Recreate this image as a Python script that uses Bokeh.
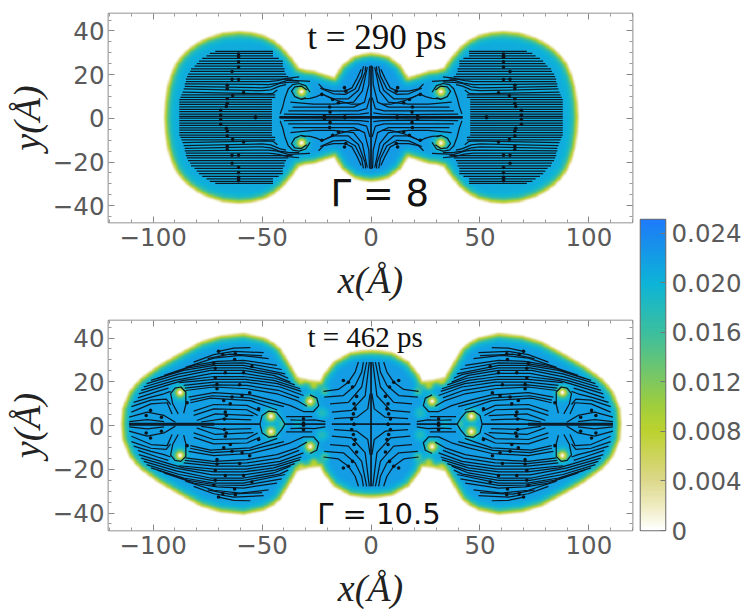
import numpy as np
from bokeh.embed import file_html
from bokeh.layouts import column, row
from bokeh.models import (CustomJSTickFormatter, FixedTicker, Label, LinearAxis,
                          LinearColorMapper, Range1d)
from bokeh.plotting import figure
from bokeh.resources import INLINE

# Axis ticks and colour scale
x_ticks = [-100, -50, 0, 50, 100]
x_minor = [-120, -110, -90, -80, -70, -60, -40, -30, -20, -10, 10, 20, 30, 40, 60, 70, 80, 90, 110, 120]
y_ticks = [-40, -20, 0, 20, 40]
y_minor = [-45, -35, -30, -25, -15, -10, -5, 5, 10, 15, 25, 30, 35, 45]
cbar_ticks = [0, 0.004, 0.008, 0.012, 0.016, 0.02, 0.024]
cbar_labels = ["0", "0.004", "0.008", "0.012", "0.016", "0.020", "0.024"]
cbar_levels = [0, 0.0003, 0.001, 0.002, 0.004, 0.006, 0.008, 0.010, 0.012, 0.016, 0.020, 0.024, 0.0255]
cbar_colors = ["#ffffff", "#fcfcf2", "#f6f5dc", "#edebbd", "#dcd88a", "#cdd45c", "#bcd22f", "#a0ce3c", "#7fc85e",
               "#3cbf9e", "#0db4d8", "#1a88f0", "#1f78ff"]

# Top panel (t = 290 ps): one quadrant, the others are its mirror images
top_outline = [(-95, 0), (-94.6, 7), (-93.6, 13.9), (-92, 19.5), (-89.8, 24.6), (-87, 28.3), (-83.7, 31.5),
               (-79.8, 34.2), (-75.3, 36.5), (-68, 38.8), (-60.8, 39.5), (-55, 39), (-49.3, 37.6), (-44.6, 35.2),
               (-40.9, 32.2), (-36.3, 26.9), (-33.3, 22.6), (-30, 21.6), (-26.4, 21.2),
               (-20.3, 19.2), (-17, 18.2), (-15.5, 20.5), (-13.4, 23.8), (-8, 27.9), (-4, 29), (0, 29.5)]
top_vortices = [(-32, 11.8)]
top_bulk_x = [0, 15, 30, 60, 95]
top_bulk = [0.0226, 0.0222, 0.022, 0.0208, 0.0208]
top_levels = [30.2, 29.3, 28.2, 27, 25.8, 24.6, 23.4, 22.2, 21, 19.8, 18.6, 17.5,
              10.3, 9.2, 8.1, 7, 5.9, 4.8, 3.7, 2.6, 1.5, 0.4]
top_starts = [-71.5, -74, -75.5, -77.5, -79, -80, -81, -82.6, -83, -84, -84.5, -85,
              -87, -87.5, -88, -88, -88, -88, -88, -88, -88, -88]
top_ends = [-45, -45, -45, -42.4, -40.5, -40.5, -40.5, -39.7, -39.7, -39, -38, -36,
            -44, -44, -45.5, -45.5, -45.5, -45.5, -45.5, -45.5, -45.5, -45.5]
top_curves = [
    [(-85, 16.4), (-47, 16.4), (-43, 16.8), (-38, 18), (-33, 18.5)],
    [(-85.5, 15.3), (-47, 15), (-43, 15.5), (-38, 17), (-28, 16.5)],
    [(-85.5, 14.2), (-50, 13.5), (-46, 14), (-42, 15.5), (-38, 16), (-33, 16.2)],
    [(-86, 13), (-50, 12.2), (-46, 12.6), (-42, 14.3), (-39, 15)],
    [(-86.5, 11.6), (-48, 10.8), (-45, 11), (-43, 12.5)],
    [(-41.7, 1.6), (-40.5, 5), (-39.5, 9), (-38, 13), (-36, 15), (-33, 15.5), (-30, 14.5), (-28, 11.5)],
    [(-30, 9), (-32, 8.2), (-35, 9.5), (-36.5, 12), (-35, 14), (-32, 14.3), (-29.5, 12.5)],
    [(-32, 8.5), (-28, 8.7), (-25, 9.5), (-22.5, 10.7), (-19, 9), (-15, 7.5), (-9, 6), (-5, 6)],
    [(-24.1, 15.3), (-21.8, 13), (-17.3, 12), (-11.9, 12), (-8.8, 13.5), (-6.5, 17.7), (-4.5, 22)],
    [(-23.3, 13.4), (-17.3, 10.8), (-11.9, 10.5), (-7.3, 13), (-4.3, 19), (-3.5, 23.4)],
    [(-22.6, 10.7), (-17.3, 8.5), (-10.4, 8.5), (-5.8, 12.4), (-2.7, 20.8), (-2.5, 23.4)],
    [(-37, 7), (-26.4, 6), (-17.3, 6), (-8, 7), (-4, 12), (-1.7, 23)],
    [(-36, 4.7), (-17.3, 4.7), (-8, 4.7), (-3, 7), (-1, 15), (-0.7, 23.4)],
    [(-38, 3), (-17.3, 3), (-6, 3), (-2, 4), (-0.5, 9)],
    [(-40, 1.5), (-17, 1.3), (-5, 1.5), (-1, 2)],
    [(-42, 0), (0, 0), (0, 23.7)],
    [(-42, 0.3), (0, 0.3)],
]
top_arrows = [(-60.8, 29), (-60.8, 28), (-60.8, 27.5), (-60.8, 25.4), (-60.8, 23), (-63.8, 21), (-63.8, 17.4),
              (-60.8, 17.3), (-66, 14.7), (-66, 13.1), (-58.5, 11.3), (-63.5, 10), (-66, 8.5), (-66, 6.3),
              (-69, 3.2), (-69, 1), (-53, 0.2), (-66.4, 5), (-22.6, 10.5), (-12.2, 13.6), (-11.6, 12),
              (-17.6, 8.2), (-15, 6.7), (-19, 4.7), (-18.8, 2.4), (-21.4, 0.6), (-12, 0.2)]

# Bottom panel (t = 462 ps)
bot_outline = [(-114.7, 0), (-114.2, 7), (-111.1, 14.7), (-108.5, 18), (-105.8, 20.8), (-97.4, 26.9), (-88.2, 32.2),
               (-78.3, 37.6), (-69.2, 40.3), (-58.5, 41.4), (-49.3, 39.4), (-45, 37.2), (-41.7, 34.5), (-37.1, 26.9),
               (-34, 21.5), (-28.7, 20), (-23.4, 19.5), (-22, 22.3), (-17.3, 28.4), (-9.6, 32.7), (-4, 33.5), (0, 33.7)]
bot_vortices = [(-87.8, 14.4), (-46, 3.5), (-28, 10.4)]
bot_dips = [(-32.5, 19.5, 0.5, 2), (-26.4, 17.5, 0.5, 2), (-21.5, 15, 0.3, 2), (-41, 0.5, 0.25, 1.6),
            (-22.5, 5, 0.2, 2.5), (-34, 0, 0.15, 2)]
bot_bulk_x = [0, 30, 60, 115]
bot_bulk = [0.0222, 0.0222, 0.0219, 0.0219]
bot_curves = [
    [(-70, 33.3), (-63, 34.8), (-55.4, 35)],
    [(-81.4, 28.4), (-72.2, 31.8), (-63, 33.3), (-49.3, 32.7)],
    [(-75, 30), (-65, 32), (-50, 31.3)],
    [(-85.2, 26), (-72.2, 30.2), (-60, 31.5), (-47, 30)],
    [(-95, 22.3), (-81.4, 26.9), (-70.7, 28.7), (-58.5, 29.2), (-43.2, 26.9)],
    [(-98, 21), (-84, 25.7), (-71, 27.8), (-58.5, 28), (-41, 25)],
    [(-101, 20), (-86, 24.6), (-72, 26.9), (-58.5, 26.9), (-39.4, 23)],
    [(-103, 18.5), (-88, 23), (-73, 25.7), (-58.5, 25.7), (-42, 22.8), (-38, 21)],
    [(-104.3, 17), (-89, 21.5), (-73.7, 24.6), (-58.5, 24.6), (-44.7, 22.3), (-37, 19.2)],
    [(-105.5, 15.5), (-90, 20), (-73, 23.2), (-58.5, 23.2), (-44, 21), (-35, 18)],
    [(-106.6, 13.9), (-91.3, 18.5), (-86, 20), (-72, 21.8), (-58.5, 21.8), (-44.7, 20), (-32.5, 16.2)],
    [(-88, 19), (-72, 20.5), (-57.5, 20.5), (-43, 18.5), (-32, 15)],
    [(-86, 17.7), (-72, 19.2), (-57, 19.2), (-41.7, 17), (-31, 13.1)],
    [(-85.5, 16.5), (-72, 18), (-57, 17.7), (-42.5, 15.5), (-33, 12)],
    [(-85.2, 15.4), (-72.2, 17), (-57, 16.2), (-43.2, 13.9), (-34, 10.8), (-29.5, 8.2)],
    [(-83.7, 12.4), (-72.2, 14.4), (-55.4, 13.4), (-44.7, 10.8), (-37, 8.5), (-31, 5.8), (-26.4, 5.8),
     (-24, 8.5), (-24.9, 11.9), (-28, 13.4)],
    [(-83, 11), (-73, 13), (-56, 12), (-46, 9.5), (-40, 8)],
    [(-82.9, 9.8), (-73.7, 11.9), (-55.4, 10.8), (-47.5, 8.1), (-43, 6.5)],
    [(-81.4, 6), (-72.2, 9), (-57, 8.6), (-51, 6)],
    [(-81.4, 4), (-72.2, 7), (-57, 6.6), (-52, 4)],
    [(-80, 1.7), (-71.5, 4.7), (-54, 3.9)],
    [(-78, 1), (-68, 2.4), (-55, 2)],
    [(-111, 0), (-51, 0)],
    [(-111, 0.4), (-72, 0.4)],
    [(-51, 0), (-50, 4), (-47, 6), (-43.5, 5.5), (-41, 2.5), (-39.5, 0), (-21, 0)],
    [(-88.5, 4.7), (-91, 9.2), (-92, 14), (-90, 16.5), (-87.3, 17), (-85, 14.7), (-85, 9), (-86, 5)],
    [(-107, 12), (-98, 15), (-93, 16.5)],
    [(-109, 10), (-101, 12.4), (-95, 13.9), (-92, 15)],
    [(-110, 8), (-101, 11), (-94, 11.5), (-92, 9)],
    [(-110, 5.5), (-101, 9.3), (-93.6, 9.8), (-91.3, 4.7)],
    [(-111, 3.2), (-102.7, 5.5), (-95, 4), (-89.8, 0.9)],
    [(-111, 1.2), (-102.7, 2.1), (-95, 1.2)],
    [(-37, 2), (-32, 1.8), (-26, 2), (-21, 1.2)],
    [(-39, 3.5), (-33, 3.5), (-27, 3.5)],
    [(-21.8, 15), (-15, 15.9), (-10.4, 19.2), (-7.3, 23.8), (-5.8, 28.4)],
    [(-21.5, 12.4), (-12.7, 13.1), (-7.3, 17.7), (-4.3, 23.8), (-3.5, 28.4)],
    [(-18.8, 9.3), (-10.4, 10), (-4.3, 17), (-2, 28.4)],
    [(-18, 5.5), (-8.9, 6.3), (-2.7, 13), (-0.8, 28.4)],
    [(-17, 2.5), (-6.5, 3.2), (-1.5, 7), (-0.4, 14)],
    [(-18, 0), (0, 0), (0, 28.4)],
]
bot_arrows = [(-70, 33.3), (-68, 31.8), (-62.3, 32.2), (-62.6, 29.6), (-72.2, 27.9), (-71.5, 25.6), (-54.7, 26.4),
              (-66.9, 23.5), (-58.5, 23.5), (-71.5, 21.2), (-70.7, 18.2), (-60.3, 18), (-70.7, 16.2), (-55.7, 14.4),
              (-59.2, 13.1), (-63.8, 12.4), (-67.6, 10.8), (-64.6, 9.3), (-84.4, 9.8), (-101.2, 6.3), (-103.2, 4),
              (-96.2, 3.2), (-51.6, 7), (-66.9, 5.5), (-66.4, 4), (-67.3, 2.4), (-31, 0.5), (-31, 2.5),
              (-12.7, 20), (-10.4, 19.2), (-8.5, 17), (-6.6, 12.7), (-7.8, 9.3), (-7.3, 7), (-8.1, 4.7),
              (-8.9, 2.4), (-7.8, 0)]


def folded_field(xg, yg, outline, vortices, dips, bulk_x, bulk, heal):
    # density on a grid: zero just outside the outline, healing up to the bulk value inside it
    ax, ay = -np.abs(xg), np.abs(yg)
    pts = np.array(outline)
    d = np.full(xg.shape, 1e9)
    for (x0, y0), (x1, y1) in zip(pts[:-1], pts[1:]):
        t = ((ax - x0) * (x1 - x0) + (ay - y0) * (y1 - y0)) / ((x1 - x0) ** 2 + (y1 - y0) ** 2)
        t = np.clip(t, 0, 1)
        d = np.minimum(d, np.hypot(ax - x0 - t * (x1 - x0), ay - y0 - t * (y1 - y0)))
    poly = np.vstack([pts, [(0, 0)]])
    inside = np.zeros(xg.shape, bool)
    for (x0, y0), (x1, y1) in zip(poly, np.roll(poly, -1, axis=0)):
        if y0 == y1:
            continue
        cross = ((y0 > ay) != (y1 > ay)) & (ax < x0 + (ay - y0) * (x1 - x0) / (y1 - y0))
        inside ^= cross
    signed = np.where(inside, d, -d) + 1.0
    rho = np.interp(-ax, bulk_x, bulk) * np.tanh(np.clip(signed, 0, None) / heal) ** 2
    for vx, vy in vortices:
        rho = rho * np.tanh(np.hypot(ax - vx, ay - vy) / 2.0) ** 2
    for vx, vy, amp, size in dips:
        rho = rho * (1 - amp * np.exp(-((ax - vx) ** 2 + (ay - vy) ** 2) / size ** 2))
    return rho


def mirrored(lines):
    out = []
    for line in lines:
        for sx in (1, -1):
            for sy in (1, -1):
                out.append([(sx * px, sy * py) for px, py in line])
    return out


mapper = LinearColorMapper(
    palette=["#%02x%02x%02x" % tuple(
        int(round(np.interp(v, cbar_levels, [int(c[i:i + 2], 16) for c in cbar_colors])))
        for i in (1, 3, 5)) for v in np.linspace(0, 0.0255, 256)],
    low=0, high=0.0255)


def panel(outline, vortices, dips, bulk_x, bulk, lines, arrows, shift, fh, top_b, bot_b, xr, yr):
    p = figure(frame_width=524, frame_height=fh, x_range=Range1d(*xr), y_range=Range1d(*yr),
               min_border_left=108, min_border_right=3, min_border_top=top_b, min_border_bottom=bot_b,
               toolbar_location=None, output_backend="svg", tools="")
    xs = np.linspace(-121, 121, 968)
    ys = np.linspace(-49, 49, 392)
    xg, yg = np.meshgrid(xs, ys)
    rho = folded_field(xg, yg - shift, outline, vortices, dips, bulk_x, bulk, 2.3)
    p.image(image=[rho], x=-121, y=-49, dw=242, dh=98, color_mapper=mapper)

    all_lines = mirrored(lines)
    p.multi_line([[q[0] for q in l] for l in all_lines], [[q[1] + shift for q in l] for l in all_lines],
                 line_color="#0c1a26", line_width=1.25, line_join="round")
    all_dots = mirrored([arrows])
    p.scatter([q[0] for l in all_dots for q in l], [q[1] + shift for l in all_dots for q in l],
              marker="circle", size=3.6, color="#0a141c", line_color=None)

    p.grid.visible = False
    p.outline_line_color = "#6e6e6e"
    p.outline_line_width = 1.6
    p.background_fill_color = "white"

    p.xaxis.ticker = FixedTicker(ticks=x_ticks, minor_ticks=x_minor)
    p.yaxis.ticker = FixedTicker(ticks=y_ticks, minor_ticks=y_minor)
    p.xaxis.major_label_overrides = {t: str(t).replace("-", "\u2212") for t in x_ticks}
    p.yaxis.major_label_overrides = {t: str(t).replace("-", "\u2212") for t in y_ticks}
    p.xaxis.axis_label = "x(Å)"
    p.yaxis.axis_label = "y(Å)"
    for ax in (p.xaxis[0], p.yaxis[0]):
        ax.axis_line_color = None
        ax.major_tick_in, ax.major_tick_out = 6, 0
        ax.minor_tick_in, ax.minor_tick_out = 3, 0
        ax.major_tick_line_color = "#888888"
        ax.minor_tick_line_color = "#999999"
        ax.major_label_text_font = "DejaVu Sans"
        ax.major_label_text_font_size = "24.5px"
        ax.major_label_text_color = "#5a5a5a"
        ax.major_label_standoff = 4
        ax.axis_label_text_font = "Liberation Serif"
        ax.axis_label_text_font_style = "italic"
        ax.axis_label_text_font_size = "38px"
        ax.axis_label_text_color = "#222222"
        ax.axis_label_standoff = 2
    p.xaxis[0].axis_label_standoff = 10
    p.xaxis[0].major_label_standoff = 5
    p.yaxis[0].major_label_orientation = "horizontal"

    # mirrored ticks on the other two sides
    blank = CustomJSTickFormatter(code="return ''")
    for side, ticks, minor in (("above", x_ticks, x_minor), ("right", y_ticks, y_minor)):
        ax = LinearAxis(ticker=FixedTicker(ticks=ticks, minor_ticks=minor), formatter=blank,
                        axis_line_color=None, major_tick_in=6, major_tick_out=0, minor_tick_in=3, minor_tick_out=0,
                        major_tick_line_color="#888888", minor_tick_line_color="#999999",
                        major_label_text_font_size="0px", major_label_standoff=0)
        p.add_layout(ax, side)
    return p


top = panel(top_outline, top_vortices, [], top_bulk_x, top_bulk,
            [[(a, y), (b, y)] for y, a, b in zip(top_levels, top_starts, top_ends)] + top_curves,
            top_arrows, 0.45, 209, 13, 93, (-120.5, 120), (-47.7, 48))
top.add_layout(Label(x=2.7, y=37, text="t = 290 ps", text_font="Liberation Serif", text_font_size="35px",
                     text_align="center", text_baseline="middle", text_color="#111111"))
top.add_layout(Label(x=4, y=-34.6, text="Γ = 8", text_font="DejaVu Sans", text_font_size="37px",
                     text_align="center", text_baseline="middle", text_color="#111111"))

bottom = panel(bot_outline, bot_vortices, bot_dips, bot_bulk_x, bot_bulk, bot_curves, bot_arrows,
               0.6, 210, 5, 70, (-120.5, 120), (-48, 48))
bottom.add_layout(Label(x=-2.7, y=40.6, text="t = 462 ps", text_font="Liberation Serif", text_font_size="29px",
                        text_align="center", text_baseline="middle", text_color="#111111"))
bottom.add_layout(Label(x=3.6, y=-40.6, text="Γ = 10.5", text_font="DejaVu Sans", text_font_size="29px",
                        text_align="center", text_baseline="middle", text_color="#111111"))

cbar = figure(frame_width=25, frame_height=311, x_range=Range1d(0, 1), y_range=Range1d(0, 0.0251),
              y_axis_location="right", min_border_left=5, min_border_right=76, min_border_top=219,
              min_border_bottom=16, toolbar_location=None, output_backend="svg", tools="")
gradient = np.linspace(0, 0.0251, 256).reshape(-1, 1)
cbar.image(image=[gradient], x=0, y=0, dw=1, dh=0.0251, color_mapper=mapper)
cbar.grid.visible = False
cbar.xaxis.visible = False
cbar.outline_line_color = "#6e6e6e"
cbar.outline_line_width = 1.6
ax = cbar.yaxis[0]
ax.ticker = FixedTicker(ticks=cbar_ticks)
ax.major_label_overrides = dict(zip(cbar_ticks, cbar_labels))
ax.axis_line_color = None
ax.major_tick_in, ax.major_tick_out = 5, 0
ax.minor_tick_in, ax.minor_tick_out = 0, 0
ax.major_tick_line_color = "#777777"
ax.major_label_text_font = "DejaVu Sans"
ax.major_label_text_font_size = "24.5px"
ax.major_label_text_color = "#5a5a5a"
ax.major_label_standoff = 6

layout = row(column(top, bottom, spacing=0), cbar, spacing=0)
open("out.html", "w").write(file_html(layout, INLINE))
